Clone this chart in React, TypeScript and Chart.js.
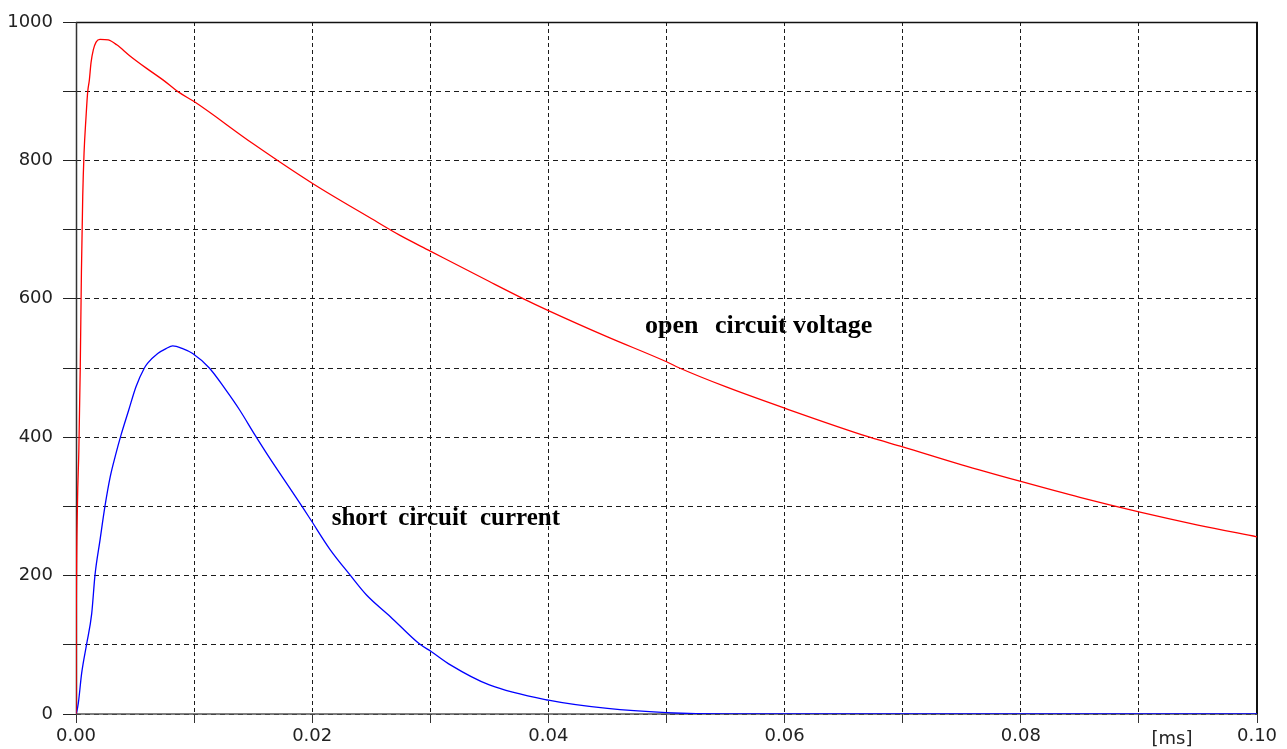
import React, { useEffect, useRef } from 'react';
import { Chart, registerables } from 'chart.js';

Chart.register(...registerables);

// Open circuit voltage (time in ms, value)
const voltageTime = [
  0, 0.00002, 0.00012, 0.00024, 0.00036, 0.00046, 0.00057, 0.00068, 0.00085, 0.00099,
  0.00113, 0.00127, 0.00147, 0.0017, 0.00203, 0.00274, 0.00345, 0.00457, 0.00598, 0.00739,
  0.00866, 0.01, 0.015, 0.02, 0.025, 0.0274, 0.03, 0.035, 0.0379, 0.04,
  0.045, 0.05, 0.0511, 0.055, 0.06, 0.0672, 0.07, 0.075, 0.08, 0.085,
  0.09, 0.095, 0.1,
];
const voltageValues = [
  0, 130, 300, 380, 500, 640, 748, 810, 863, 899,
  916, 941, 960, 971, 975, 974, 967, 951, 933, 916,
  899, 885, 824, 767, 716, 692, 669, 625, 600, 583,
  545, 509, 500, 473, 442, 400, 386, 360, 336, 313,
  292, 273, 256,
];

// Short circuit current (time in ms, value)
const currentTime = [
  0, 0.00006, 0.0002, 0.00048, 0.0009, 0.00133, 0.00161, 0.00203, 0.00246, 0.0029,
  0.00333, 0.00381, 0.00446, 0.00508, 0.00579, 0.00607, 0.00692, 0.00762, 0.00819, 0.00903,
  0.00988, 0.01129, 0.0127, 0.01383, 0.01516, 0.01643, 0.01812, 0.01925, 0.0199, 0.0215,
  0.0232, 0.0246, 0.0266, 0.0291, 0.0301, 0.0317, 0.035, 0.04, 0.045, 0.05,
  0.055, 0.06, 0.07, 0.08, 0.09, 0.1,
];
const currentValues = [
  0, 3, 16, 59, 101, 145, 201, 251, 301, 343,
  373, 403, 439, 473, 500, 507, 521, 528, 532, 528,
  521, 500, 468, 440, 403, 369, 326, 297, 280, 238,
  201, 172, 141, 101, 90, 71, 42, 20, 8, 2,
  0, 0, 0, 0, 0, 0,
];

const xTickLabels = ['0.00', '0.02', '0.04', '0.06', '0.08', '0.10'];
const yTickLabels = ['0', '200', '400', '600', '800', '1000'];
const xUnitLabel = '[ms]';
const voltageLabelWords = ['open', 'circuit', 'voltage'];
const currentLabelWords = ['short', 'circuit', 'current'];

export default function App() {
  const canvasRef = useRef<HTMLCanvasElement | null>(null);

  useEffect(() => {
    document.body.style.margin = '0';
    const canvas = canvasRef.current;
    if (!canvas) return;

    const framePlugin = {
      id: 'frame',
      beforeDatasetsDraw(chart: any) {
        const { ctx, chartArea } = chart;
        const { left, right, top, bottom } = chartArea;
        ctx.save();
        ctx.setLineDash([]);
        ctx.strokeStyle = '#111';
        ctx.lineWidth = 1.5;
        ctx.beginPath();
        ctx.moveTo(left, top + 0.5);
        ctx.lineTo(right + 1, top + 0.5);
        ctx.stroke();
        ctx.lineWidth = 2;
        ctx.beginPath();
        ctx.moveTo(right, top);
        ctx.lineTo(right, bottom);
        ctx.stroke();
        ctx.strokeStyle = '#333';
        ctx.lineWidth = 1.5;
        ctx.beginPath();
        ctx.moveTo(left + 0.5, top);
        ctx.lineTo(left + 0.5, bottom);
        ctx.stroke();
        ctx.strokeStyle = '#555';
        ctx.lineWidth = 1.5;
        ctx.beginPath();
        ctx.moveTo(left, bottom);
        ctx.lineTo(right, bottom);
        ctx.stroke();
        ctx.restore();
      },
      afterDatasetsDraw(chart: any) {
        const { ctx, scales } = chart;
        const xs = scales.x;
        const ys = scales.y;
        ctx.save();
        ctx.fillStyle = '#000';
        ctx.textBaseline = 'alphabetic';
        ctx.textAlign = 'left';
        ctx.font = 'bold 25px "Liberation Serif", serif';
        const cy = ys.getPixelForValue(273);
        const cx = [0.02165, 0.02729, 0.03421];
        currentLabelWords.forEach((w, i) => ctx.fillText(w, xs.getPixelForValue(cx[i]), cy));
        ctx.font = 'bold 26px "Liberation Serif", serif';
        const vy = ys.getPixelForValue(551);
        const vx = [0.04818, 0.05411, 0.06071];
        voltageLabelWords.forEach((w, i) => ctx.fillText(w, xs.getPixelForValue(vx[i]), vy));
        ctx.font = '18px "DejaVu Sans", sans-serif';
        ctx.fillStyle = '#222';
        ctx.textAlign = 'center';
        ctx.textBaseline = 'middle';
        ctx.fillText(xUnitLabel, xs.getPixelForValue(0.0928), ys.bottom + 25);
        ctx.restore();
      },
    };

    const chart = new Chart(canvas, {
      type: 'line',
      data: {
        datasets: [
          {
            label: 'open circuit voltage',
            data: voltageTime.map((t, i) => ({ x: t, y: voltageValues[i] })),
            borderColor: 'rgb(255,0,0)',
            borderWidth: 1.3,
            pointRadius: 0,
            cubicInterpolationMode: 'monotone',
            fill: false,
          },
          {
            label: 'short circuit current',
            data: currentTime.map((t, i) => ({ x: t, y: currentValues[i] })),
            borderColor: 'rgb(0,0,255)',
            borderWidth: 1.3,
            pointRadius: 0,
            cubicInterpolationMode: 'monotone',
            fill: false,
          },
        ],
      },
      options: {
        responsive: false,
        animation: false,
        events: [],
        layout: { padding: { top: 22, right: 30, left: 0, bottom: 0 } },
        plugins: {
          legend: { display: false },
          tooltip: { enabled: false },
          title: { display: false },
        },
        scales: {
          x: {
            type: 'linear',
            min: 0,
            max: 0.1,
            afterFit(scale: any) {
              scale.height = 35;
            },
            ticks: {
              stepSize: 0.01,
              autoSkip: false,
              maxRotation: 0,
              padding: 3,
              color: '#222',
              font: { family: '"DejaVu Sans", sans-serif', size: 18 },
              callback: (_v: any, index: number) => (index % 2 === 0 ? xTickLabels[index / 2] : ''),
            },
            grid: {
              color: '#1c1c1c',
              lineWidth: 1,
              tickLength: 9,
              tickColor: '#333',
              tickBorderDash: [],
            },
            border: { display: false, dash: [4, 3] },
          },
          y: {
            type: 'linear',
            min: 0,
            max: 1000,
            afterFit(scale: any) {
              scale.width = 76;
            },
            ticks: {
              stepSize: 100,
              autoSkip: false,
              padding: 10,
              color: '#222',
              font: { family: '"DejaVu Sans", sans-serif', size: 18 },
              callback: (_v: any, index: number) => (index % 2 === 0 ? yTickLabels[index / 2] : ''),
            },
            grid: {
              color: '#1c1c1c',
              lineWidth: 1,
              tickLength: 13,
              tickColor: '#222',
              tickBorderDash: [],
            },
            border: { display: false, dash: [5, 4] },
          },
        },
      },
      plugins: [framePlugin],
    });

    return () => {
      chart.destroy();
    };
  }, []);

  return (
    <div style={{ width: 1287, height: 749, position: 'relative', background: '#fff' }}>
      <canvas ref={canvasRef} width={1287} height={749} />
    </div>
  );
}
